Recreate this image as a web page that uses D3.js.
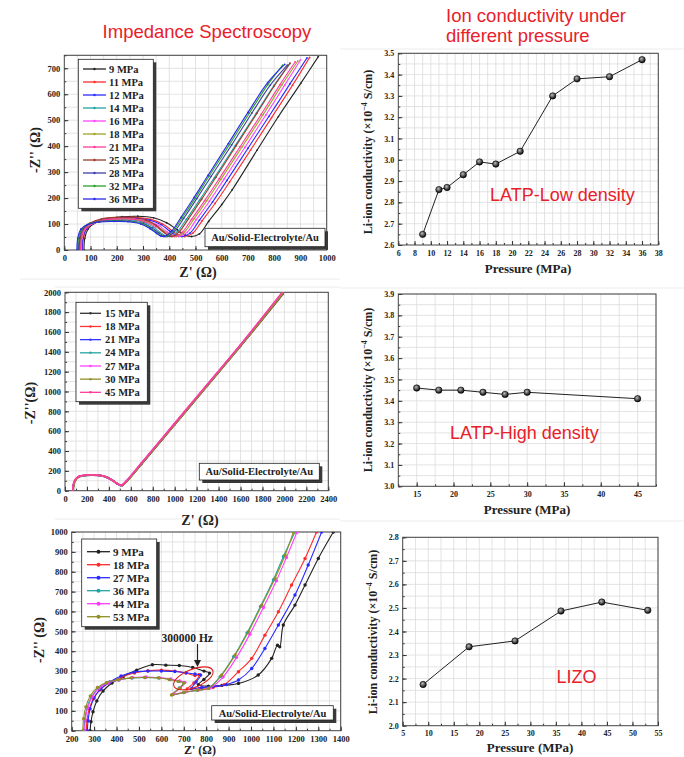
<!DOCTYPE html>
<html>
<head>
<meta charset="utf-8">
<script src="https://cdn.jsdelivr.net/npm/d3@7"></script>
<style>
  body { margin: 0; background: #fff; }
  svg { display: block; }
</style>
</head>
<body>
<svg id="fig" width="684" height="757"></svg>
<script>
// ---------- data ----------

// right column: conductivity vs pressure
const lowPressure = [9, 11, 12, 14, 16, 18, 21, 25, 28, 32, 36];
const lowCond = [2.65, 2.86, 2.87, 2.93, 2.99, 2.98, 3.04, 3.30, 3.38, 3.39, 3.47];
const highPressure = [15, 18, 21, 24, 27, 30, 45];
const highCond = [3.46, 3.45, 3.45, 3.44, 3.43, 3.44, 3.41];
const lizoPressure = [9, 18, 27, 36, 44, 53];
const lizoCond = [2.175, 2.335, 2.36, 2.487, 2.525, 2.49];

// tick labels
const lowPTicks = [6, 8, 10, 12, 14, 16, 18, 20, 22, 24, 26, 28, 30, 32, 34, 36, 38];
const lowCTicks = [2.6, 2.7, 2.8, 2.9, 3.0, 3.1, 3.2, 3.3, 3.4, 3.5];
const highPTicks = [15, 20, 25, 30, 35, 40, 45];
const highCTicks = [3.0, 3.1, 3.2, 3.3, 3.4, 3.5, 3.6, 3.7, 3.8, 3.9];
const lizoPTicks = [5, 10, 15, 20, 25, 30, 35, 40, 45, 50, 55];
const lizoCTicks = [2.0, 2.1, 2.2, 2.3, 2.4, 2.5, 2.6, 2.7, 2.8];
const zLowXTicks = [0, 100, 200, 300, 400, 500, 600, 700, 800, 900, 1000];
const zLowYTicks = [0, 100, 200, 300, 400, 500, 600, 700];
const zHighXTicks = [0, 200, 400, 600, 800, 1000, 1200, 1400, 1600, 1800, 2000, 2200, 2400];
const zHighYTicks = [0, 200, 400, 600, 800, 1000, 1200, 1400, 1600, 1800, 2000];
const zLizoXTicks = [200, 300, 400, 500, 600, 700, 800, 900, 1000, 1100, 1200, 1300, 1400];
const zLizoYTicks = [0, 100, 200, 300, 400, 500, 600, 700, 800, 900, 1000];

// Nyquist plot, LATP low density  [Z', -Z'']
const lowLabels = ["9 MPa", "11 MPa", "12 MPa", "14 MPa", "16 MPa", "18 MPa", "21 MPa", "25 MPa", "28 MPa", "32 MPa", "36 MPa"];
const lowColors = ["#222222", "#ff2b2b", "#2b2bff", "#22a3a3", "#ff44ff", "#a3a32b", "#ff3b9c", "#9c3b2b", "#3f3fae", "#2ba02b", "#2a2ae6"];
const lowZ = [
  [[75,0],[78,45],[90,80],[115,103],[160,120],[220,128],[280,130],[340,124],[390,105],[430,78],[460,58],[485,52],[515,62],[550,110],[600,175],[640,232],[735,385],[816,514],[901,642],[968,745]],
  [[70,0],[73,45],[85,80],[110,102],[155,117],[215,124],[275,125],[330,118],[375,100],[410,75],[435,57],[458,52],[490,65],[525,112],[575,180],[630,262],[710,385],[790,510],[870,635],[935,742]],
  [[68,0],[71,45],[83,80],[108,101],[153,116],[213,122],[270,122],[325,115],[368,98],[402,73],[427,56],[448,52],[480,66],[515,115],[565,185],[620,268],[700,392],[780,515],[860,640],[925,740]],
  [[60,0],[63,45],[75,80],[100,100],[145,113],[200,117],[255,116],[305,106],[340,88],[365,68],[385,55],[402,52],[430,70],[465,118],[515,192],[570,276],[650,400],[730,525],[800,635],[860,718]],
  [[65,0],[68,45],[80,80],[105,101],[150,116],[210,121],[265,120],[318,112],[360,94],[392,70],[418,56],[436,52],[468,68],[503,117],[553,188],[608,272],[688,395],[768,520],[840,635],[900,732]],
  [[63,0],[66,45],[78,80],[103,100],[148,115],[205,120],[260,119],[312,110],[353,92],[385,69],[410,55],[427,52],[458,69],[493,118],[543,190],[598,274],[678,398],[758,522],[830,637],[890,728]],
  [[62,0],[65,45],[77,80],[102,100],[147,115],[203,120],[258,119],[308,109],[348,90],[380,68],[404,55],[420,52],[450,69],[485,118],[535,190],[590,274],[670,398],[750,522],[822,637],[880,725]],
  [[57,0],[60,45],[72,82],[97,103],[142,120],[200,126],[258,126],[310,116],[348,96],[375,72],[395,56],[410,52],[438,70],[473,120],[523,195],[578,280],[655,402],[735,528],[800,632],[860,720]],
  [[54,0],[57,45],[69,80],[94,100],[139,110],[195,113],[250,112],[300,103],[335,85],[360,66],[378,55],[392,52],[420,72],[455,122],[505,198],[560,284],[638,405],[715,528],[785,635],[850,712]],
  [[51,0],[54,45],[66,80],[91,99],[136,109],[192,112],[246,111],[295,102],[330,84],[355,65],[372,55],[386,52],[414,73],[449,124],[499,200],[552,285],[630,407],[705,527],[775,636],[832,712]],
  [[48,0],[51,45],[63,80],[88,98],[133,108],[190,110],[243,109],[292,100],[327,82],[352,64],[368,54],[380,52],[410,74],[445,126],[495,203],[548,288],[625,410],[700,530],[775,645],[840,715]]
];

// Nyquist plot, LATP high density
const highLabels = ["15 MPa", "18 MPa", "21 MPa", "24 MPa", "27 MPa", "30 MPa", "45 MPa"];
const highColors = ["#333333", "#ff3333", "#3333ff", "#2aa3a3", "#ff44ff", "#8f8f2b", "#ff3b9c"];
const highZ = [
  [[76,0],[80,55],[95,105],[130,140],[190,155],[260,158],[330,152],[390,132],[440,100],[480,70],[510,54],[525,55],[560,90],[700,270],[1000,665],[1300,1060],[1600,1455],[1990,1985]],
  [[74,0],[78,55],[93,106],[128,142],[188,156],[258,159],[328,153],[388,133],[438,101],[478,70],[508,55],[522,55],[557,90],[697,272],[997,668],[1297,1063],[1597,1458],[1985,1990]],
  [[72,0],[76,55],[91,104],[126,140],[186,154],[256,157],[326,151],[386,131],[436,99],[476,69],[506,54],[520,54],[555,90],[695,273],[995,669],[1295,1064],[1595,1460],[1982,1993]],
  [[73,0],[77,55],[92,105],[127,141],[187,155],[257,158],[327,152],[387,132],[437,100],[477,70],[507,55],[521,55],[556,90],[696,272],[996,667],[1296,1062],[1596,1457],[1984,1990]],
  [[70,0],[74,56],[89,106],[124,142],[184,156],[254,159],[324,153],[384,133],[434,101],[474,71],[504,55],[518,55],[553,91],[693,274],[993,670],[1293,1066],[1593,1462],[1980,1995]],
  [[75,0],[79,54],[94,104],[129,140],[189,154],[259,157],[329,151],[389,131],[439,99],[479,69],[509,54],[523,54],[558,89],[698,271],[998,666],[1298,1061],[1598,1456],[1987,1988]],
  [[71,0],[75,56],[90,107],[125,143],[185,157],[255,160],[325,154],[385,134],[435,102],[475,72],[505,56],[519,56],[554,92],[694,275],[994,671],[1294,1067],[1594,1463],[1980,2000]]
];

// Nyquist plot, LIZO
const lizoLabels = ["9 MPa", "18 MPa", "27 MPa", "36 MPa", "44 MPa", "53 MPa"];
const lizoColors = ["#222222", "#ff2b2b", "#2b2bff", "#22a3a3", "#ff3cff", "#8f8f22"];
const lizoZ = [
  [[282,0],[286,45],[295,95],[312,150],[340,200],[380,240],[430,272],[490,305],[560,332],[620,330],[680,328],[740,318],[790,300],[815,290],[790,258],[765,232],[810,224],[870,228],[944,238],[1032,280],[1092,364],[1118,430],[1128,422],[1144,532],[1196,632],[1241,733],[1300,867],[1367,1000]],
  [[265,0],[268,50],[278,110],[296,160],[325,205],[365,240],[420,268],[480,290],[540,302],[600,305],[660,300],[710,290],[750,278],[768,282],[745,240],[715,210],[770,212],[830,218],[880,232],[944,297],[1003,364],[1062,481],[1122,599],[1181,733],[1241,867],[1292,1000]],
  [[270,0],[273,50],[282,110],[300,165],[330,210],[370,245],[420,275],[480,295],[540,300],[600,300],[660,298],[710,292],[750,285],[775,280],[755,245],[735,213],[780,218],[830,222],[890,232],[944,255],[1003,313],[1062,414],[1122,532],[1196,683],[1255,834],[1315,1000]],
  [[255,0],[258,55],[268,115],[288,170],[320,215],[360,240],[410,255],[470,265],[530,268],[590,265],[640,258],[680,248],[700,242],[680,215],[650,182],[700,192],[760,203],[810,213],[862,272],[922,372],[982,492],[1042,625],[1100,760],[1145,878],[1196,1000]],
  [[258,0],[261,55],[271,115],[291,170],[322,215],[362,240],[412,256],[472,268],[532,270],[592,266],[642,260],[682,250],[705,243],[685,215],[655,185],[705,194],[765,205],[815,214],[875,270],[935,368],[995,486],[1055,620],[1113,755],[1158,872],[1205,1000]],
  [[250,0],[253,60],[263,120],[283,175],[315,218],[355,242],[405,256],[465,266],[525,268],[585,266],[635,258],[675,248],[700,240],[680,212],[645,180],[700,193],[760,204],[810,213],[869,280],[929,381],[988,498],[1048,632],[1107,767],[1152,884],[1189,1000]]
];

// ---------- drawing ----------
const svg = d3.select("#fig");
const serif = "'Liberation Serif', 'Times New Roman', serif";
const sans = "'Liberation Sans', Arial, sans-serif";
const red = "#e8202a";

// gradient for the shaded round markers
const defs = svg.append("defs");
const grad = defs.append("radialGradient").attr("id", "ball").attr("cx", "40%").attr("cy", "35%").attr("r", "60%");
grad.append("stop").attr("offset", "0%").attr("stop-color", "#bbb");
grad.append("stop").attr("offset", "100%").attr("stop-color", "#111");

// faint edges of the pasted pictures
[[20, 340, 279], [340, 684, 49], [340, 684, 288], [55, 340, 287], [55, 340, 519], [340, 684, 521]].forEach(d => {
  svg.append("line").attr("x1", d[0]).attr("x2", d[1]).attr("y1", d[2]).attr("y2", d[2])
     .attr("stroke", "#ececec").attr("stroke-width", 1);
});

let clipId = 0;
function makePanel(o) {
  const x = d3.scaleLinear().domain(o.xd).range([o.l, o.r]);
  const y = d3.scaleLinear().domain(o.yd).range([o.b, o.t]);
  const g = svg.append("g");

  // grid
  g.selectAll(null).data(d3.range(o.xd[0], o.xd[1] + 1e-9, o.xg).slice(1)).join("line")
    .attr("x1", d => x(d)).attr("x2", d => x(d)).attr("y1", o.t).attr("y2", o.b)
    .attr("stroke", "#dcdcdc").attr("stroke-width", 0.8);
  g.selectAll(null).data(d3.range(o.yd[0], o.yd[1] + 1e-9, o.yg).slice(1)).join("line")
    .attr("y1", d => y(d)).attr("y2", d => y(d)).attr("x1", o.l).attr("x2", o.r)
    .attr("stroke", "#dcdcdc").attr("stroke-width", 0.8);

  // minor ticks
  g.append("g").attr("transform", `translate(0,${o.b})`)
    .call(d3.axisBottom(x).tickValues(d3.range(o.xd[0], o.xd[1] + 1e-9, o.xg)).tickSize(-2).tickFormat(""))
    .call(a => a.select(".domain").remove());
  g.append("g").attr("transform", `translate(${o.l},0)`)
    .call(d3.axisLeft(y).tickValues(d3.range(o.yd[0], o.yd[1] + 1e-9, o.yg)).tickSize(-2).tickFormat(""))
    .call(a => a.select(".domain").remove());

  // major ticks and labels
  const ax = g.append("g").attr("transform", `translate(0,${o.b})`)
    .call(d3.axisBottom(x).tickValues(o.xt).tickSizeInner(-4).tickSizeOuter(0).tickPadding(5).tickFormat(o.xf || d3.format("d")));
  const ay = g.append("g").attr("transform", `translate(${o.l},0)`)
    .call(d3.axisLeft(y).tickValues(o.yt).tickSizeInner(-4).tickSizeOuter(0).tickPadding(4).tickFormat(o.yf || d3.format("d")));
  [ax, ay].forEach(a => {
    a.select(".domain").remove();
    a.selectAll("text").attr("font-family", serif).attr("font-weight", "bold")
      .attr("font-size", o.fs).attr("fill", "#222");
    a.selectAll("line").attr("stroke", "#333");
  });
  g.selectAll("line").filter(function () { return this.getAttribute("stroke") === "currentColor"; }).attr("stroke", "#333");

  // frame
  g.append("rect").attr("x", o.l).attr("y", o.t).attr("width", o.r - o.l).attr("height", o.b - o.t)
    .attr("fill", "none").attr("stroke", "#444").attr("stroke-width", 1);

  const id = "clip" + (clipId++);
  defs.append("clipPath").attr("id", id).append("rect")
    .attr("x", o.l).attr("y", o.t).attr("width", o.r - o.l).attr("height", o.b - o.t);
  const plot = g.append("g").attr("clip-path", `url(#${id})`);
  return { x, y, g, plot };
}

function yTitle(txt, cx, cy, size) {
  svg.append("text").attr("transform", `translate(${cx},${cy}) rotate(-90)`)
    .attr("text-anchor", "middle").attr("font-family", serif).attr("font-weight", "bold")
    .attr("font-size", size).attr("fill", "#222").text(txt);
}
function xTitle(txt, cx, by, size) {
  svg.append("text").attr("x", cx).attr("y", by).attr("text-anchor", "middle")
    .attr("font-family", serif).attr("font-weight", "bold").attr("font-size", size)
    .attr("fill", "#222").text(txt);
}
function condTitle(cx, cy) {
  const t = svg.append("text").attr("transform", `translate(${cx},${cy}) rotate(-90)`)
    .attr("text-anchor", "middle").attr("font-family", serif).attr("font-weight", "bold")
    .attr("font-size", 12).attr("fill", "#222");
  t.append("tspan").text("Li-ion conductivity (\u00d710");
  t.append("tspan").attr("dy", -5).attr("font-size", 8).text("\u22124");
  t.append("tspan").attr("dy", 5).text(" S/cm)");
}
function shadowBox(x0, y0, w, h) {
  svg.append("rect").attr("x", x0 + 3).attr("y", y0 + 3).attr("width", w).attr("height", h).attr("fill", "#3a3a3a");
  svg.append("rect").attr("x", x0).attr("y", y0).attr("width", w).attr("height", h)
    .attr("fill", "#fff").attr("stroke", "#222").attr("stroke-width", 0.8);
}
function legend(labels, colors, x0, y0, w, h, row0, dy, lx0, lx1, tx, fs, r) {
  shadowBox(x0, y0, w, h);
  labels.forEach((lab, i) => {
    const yy = row0 + i * dy;
    svg.append("line").attr("x1", lx0).attr("x2", lx1).attr("y1", yy).attr("y2", yy)
      .attr("stroke", colors[i]).attr("stroke-width", 1.3);
    svg.append("circle").attr("cx", (lx0 + lx1) / 2).attr("cy", yy).attr("r", r).attr("fill", colors[i]);
    svg.append("text").attr("x", tx).attr("y", yy + fs * 0.35).attr("font-family", serif)
      .attr("font-weight", "bold").attr("font-size", fs).attr("fill", "#222").text(lab);
  });
}
function noteBox(x0, y0, w, h, fs) {
  shadowBox(x0, y0, w, h);
  svg.append("text").attr("x", x0 + w / 2).attr("y", y0 + h / 2 + fs * 0.35).attr("text-anchor", "middle")
    .attr("font-family", serif).attr("font-weight", "bold").attr("font-size", fs).attr("fill", "#222")
    .text("Au/Solid-Electrolyte/Au");
}
function nyquist(p, series, colors, width, r) {
  const line = d3.line().x(d => p.x(d[0])).y(d => p.y(d[1])).curve(d3.curveCatmullRom);
  series.forEach((pts, i) => {
    p.plot.append("path").attr("d", line(pts)).attr("fill", "none")
      .attr("stroke", colors[i]).attr("stroke-width", width);
    if (r > 0) {
      p.plot.selectAll(null).data(pts).join("circle")
        .attr("cx", d => p.x(d[0])).attr("cy", d => p.y(d[1])).attr("r", r).attr("fill", colors[i]);
    }
  });
}
function condLine(p, xs, ys) {
  const pts = xs.map((v, i) => [v, ys[i]]);
  p.plot.append("path").attr("d", d3.line().x(d => p.x(d[0])).y(d => p.y(d[1]))(pts))
    .attr("fill", "none").attr("stroke", "#222").attr("stroke-width", 1);
  p.g.selectAll(null).data(pts).join("circle")
    .attr("cx", d => p.x(d[0])).attr("cy", d => p.y(d[1])).attr("r", 3.2)
    .attr("fill", "url(#ball)").attr("stroke", "#000").attr("stroke-width", 0.6);
}
function redLabel(txt, x0, by, size) {
  svg.append("text").attr("x", x0).attr("y", by).attr("font-family", sans)
    .attr("font-size", size).attr("fill", red).text(txt);
}

// ---- titles ----
svg.append("text").attr("x", 207).attr("y", 38).attr("text-anchor", "middle").attr("font-family", sans)
  .attr("font-size", 18.5).attr("fill", red).text("Impedance Spectroscopy");
redLabel("Ion conductivity under", 446, 22, 18.5);
redLabel("different pressure", 446, 42, 18.5);

// ---- panel 1: LATP low density Nyquist ----
const p1 = makePanel({ l: 64.3, r: 326.7, t: 55.3, b: 250, xd: [0, 1000], yd: [0, 750],
  xg: 50, yg: 50, xt: zLowXTicks, yt: zLowYTicks, fs: 8.5 });
nyquist(p1, lowZ, lowColors, 1.1, 0.9);
legend(lowLabels, lowColors, 78.3, 59.3, 75, 149, 69, 13, 83, 106, 109, 10.5, 1.2);
noteBox(205, 228.3, 120, 18.4, 10.5);
yTitle("-Z'' (\u03a9)", 40, 150, 14);
xTitle("Z' (\u03a9)", 198, 277, 14);

// ---- panel 2: LATP low density conductivity ----
const p2 = makePanel({ l: 398.3, r: 658.3, t: 53.3, b: 245, xd: [6, 38], yd: [2.6, 3.5],
  xg: 1, yg: 0.05, xt: lowPTicks, yt: lowCTicks, yf: d3.format(".1f"), fs: 8 });
condLine(p2, lowPressure, lowCond);
condTitle(372, 152);
xTitle("Pressure (MPa)", 528, 273, 13);
redLabel("LATP-Low density", 490, 201, 18);

// ---- panel 3: LATP high density Nyquist ----
const p3 = makePanel({ l: 65, r: 328.3, t: 292.3, b: 490.7, xd: [0, 2400], yd: [0, 2000],
  xg: 100, yg: 100, xt: zHighXTicks, yt: zHighYTicks, fs: 8.5 });
nyquist(p3, highZ, highColors, 1.6, 0.9);
legend(highLabels, highColors, 76, 302.3, 71.3, 99.4, 313.3, 13.17, 80, 101, 105, 10.5, 1.2);
noteBox(199.3, 463.3, 120, 16.7, 10.5);
yTitle("-Z''(\u03a9)", 35, 403, 14);
xTitle("Z' (\u03a9)", 200, 525, 14);

// ---- panel 4: LATP high density conductivity ----
const p4 = makePanel({ l: 398.3, r: 656, t: 294, b: 486.3, xd: [12.5, 47.5], yd: [3.0, 3.9],
  xg: 2.5, yg: 0.05, xt: highPTicks, yt: highCTicks, yf: d3.format(".1f"), fs: 8 });
condLine(p4, highPressure, highCond);
condTitle(372, 390);
xTitle("Pressure (MPa)", 527, 514, 13);
redLabel("LATP-High density", 450, 439, 18);

// ---- panel 5: LIZO Nyquist ----
const p5 = makePanel({ l: 71.7, r: 340.7, t: 532, b: 730.7, xd: [200, 1400], yd: [0, 1000],
  xg: 50, yg: 50, xt: zLizoXTicks, yt: zLizoYTicks, fs: 8.5 });
nyquist(p5, lizoZ, lizoColors, 1.1, 1.7);
legend(lizoLabels, lizoColors, 81.7, 539, 75, 87.7, 551.7, 13, 87, 110, 113, 11, 2);
noteBox(211.7, 705.7, 121.6, 14.3, 10.5);
yTitle("-Z'' (\u03a9)", 44, 640, 14);
xTitle("Z' (\u03a9)", 200, 754, 12);

// 300000 Hz annotation
svg.append("text").attr("x", 161.5).attr("y", 641.5).attr("font-family", serif).attr("font-weight", "bold")
  .attr("font-size", 11.5).attr("fill", "#222").text("300000 Hz");
svg.append("line").attr("x1", 197.5).attr("x2", 197.5).attr("y1", 644).attr("y2", 661)
  .attr("stroke", "#222").attr("stroke-width", 1.2);
svg.append("path").attr("d", "M194,660 L201,660 L197.5,667 Z").attr("fill", "#222");
svg.append("ellipse").attr("cx", 193.3).attr("cy", 678.3).attr("rx", 21).attr("ry", 9)
  .attr("transform", "rotate(-22,193.3,678.3)").attr("fill", "none").attr("stroke", "#e02020").attr("stroke-width", 1.1);

// ---- panel 6: LIZO conductivity ----
const p6 = makePanel({ l: 402.7, r: 658, t: 537.3, b: 725.7, xd: [5, 55], yd: [2.0, 2.8],
  xg: 2.5, yg: 0.05, xt: lizoPTicks, yt: lizoCTicks, yf: d3.format(".1f"), fs: 8 });
condLine(p6, lizoPressure, lizoCond);
condTitle(377, 632);
xTitle("Pressure (MPa)", 530, 752, 13);
redLabel("LIZO", 556.5, 683, 18);
</script>
</body>
</html>
